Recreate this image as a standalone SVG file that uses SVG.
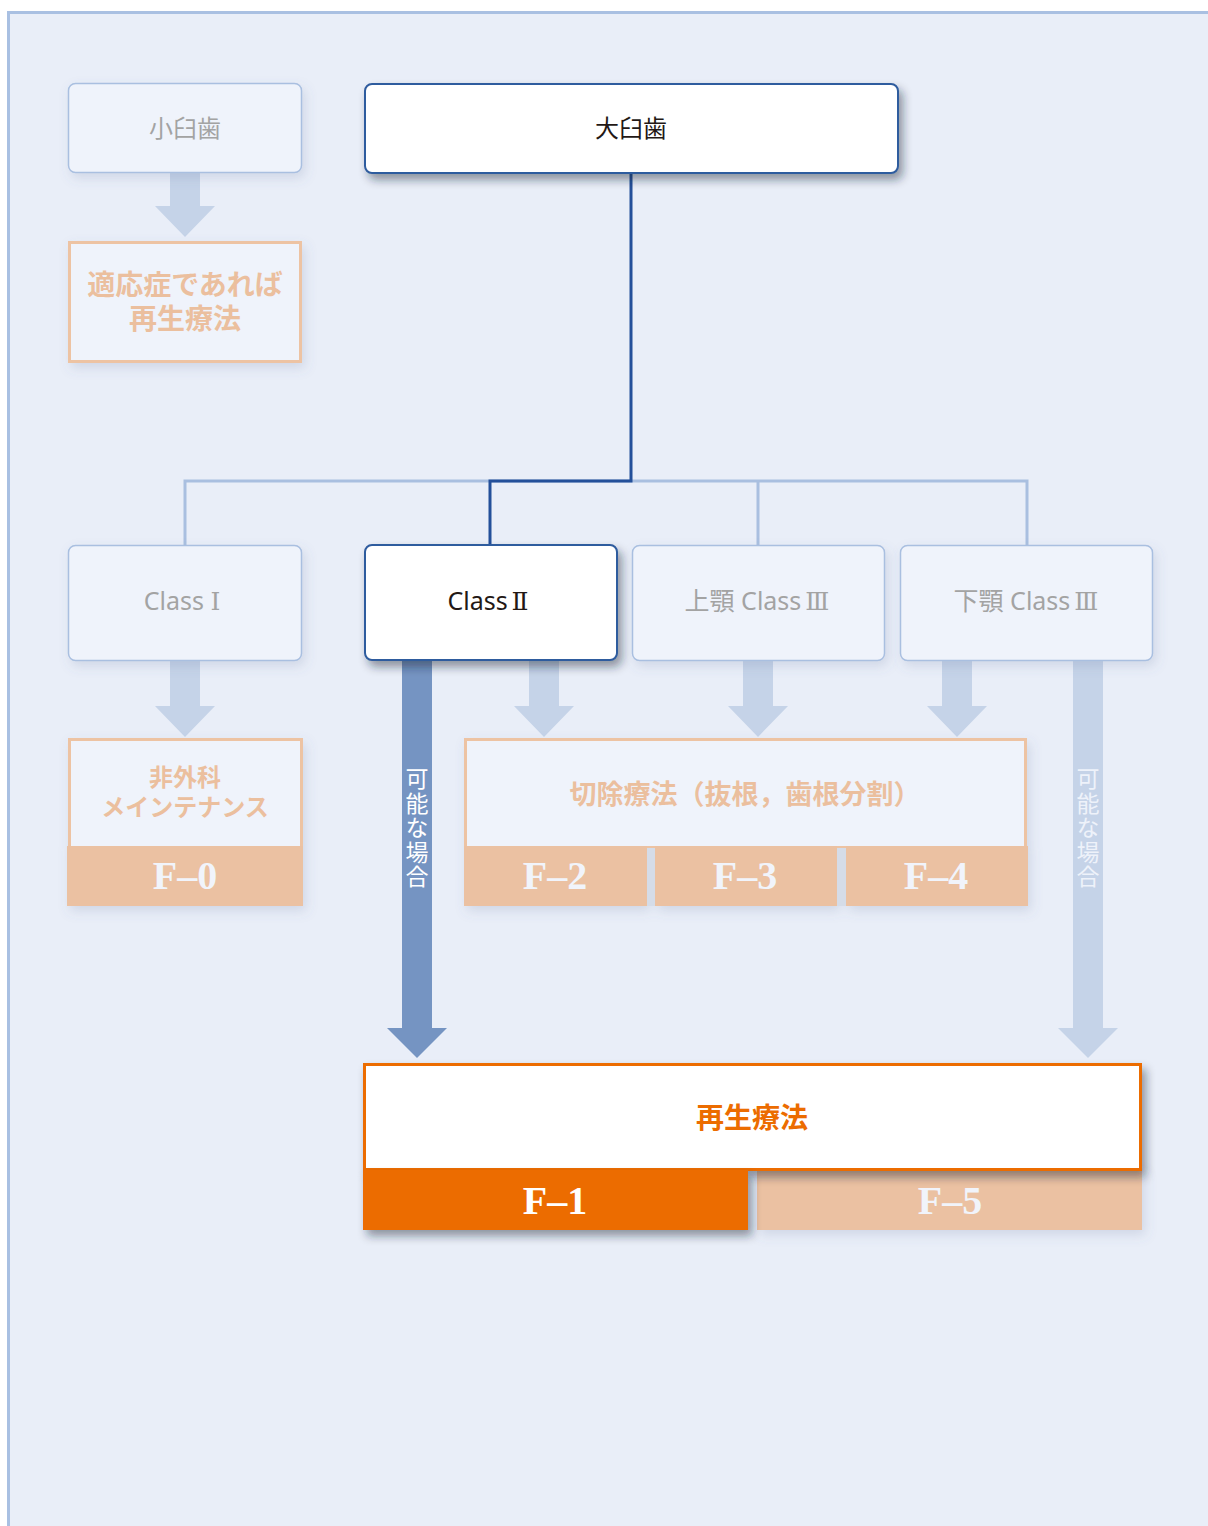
<svg xmlns="http://www.w3.org/2000/svg" width="1208" height="1526" viewBox="0 0 1208 1526">
<defs>
<filter id="shStrong" x="-10%" y="-20%" width="130%" height="160%">
<feDropShadow dx="4" dy="6" stdDeviation="5" flood-color="#1a2233" flood-opacity="0.45"/>
</filter>
<filter id="shSoft" x="-10%" y="-20%" width="130%" height="160%">
<feDropShadow dx="3" dy="5" stdDeviation="6" flood-color="#5a6f96" flood-opacity="0.18"/>
</filter>
<style>
.jp{font-family:"Noto Sans CJK JP","Noto Sans",sans-serif;}
.lat{font-family:"Noto Sans","Noto Sans CJK JP",sans-serif;}
.rn{font-family:"DejaVu Serif","Liberation Serif",serif;}
.boxL{fill:#eff3fb;stroke:#a9bfe0;stroke-width:1.5;}
.boxD{fill:#ffffff;stroke:#2f5b9e;stroke-width:2;}
.boxO{fill:#eff3fb;stroke:#edc3a3;stroke-width:3;}
.band{fill:#ebc1a2;}
.gray{fill:#a3a3a3;}
.lbl{fill:#ebbf9e;font-weight:bold;}
.fcode{font-family:"Liberation Serif","Times New Roman",serif;font-weight:bold;font-size:40px;fill:#f1f4fb;text-anchor:middle;}
.arL{fill:#c5d3e8;}
.arD{fill:#7594c2;}
.lnL{fill:none;stroke:#a9bfe0;stroke-width:3;}
.lnD{fill:none;stroke:#24509a;stroke-width:3;}
</style>
</defs>

<!-- panel -->
<rect x="0" y="0" width="1208" height="1526" fill="#ffffff"/>
<rect x="8.5" y="12.5" width="1210" height="1530" fill="#e9eef8" stroke="#a9c0e2" stroke-width="3"/>

<!-- connectors -->
<g id="connectors">
<polyline class="lnL" points="185,545 185,481 1027,481 1027,545"/>
<line class="lnL" x1="758" y1="481" x2="758" y2="545"/>
<polyline class="lnD" points="631,173 631,481 490,481 490,545"/>
<!-- block arrows -->
<polygon class="arL" points="170,173 200,173 200,206 215,206 185,237 155,206 170,206"/>
<polygon class="arL" points="170,660 200,660 200,706 215,706 185,737 155,706 170,706"/>
<polygon class="arL" points="529,660 559,660 559,706 574,706 544,737 514,706 529,706"/>
<polygon class="arL" points="743,660 773,660 773,706 788,706 758,737 728,706 743,706"/>
<polygon class="arL" points="942,660 972,660 972,706 987,706 957,737 927,706 942,706"/>
<polygon class="arD" points="402,660 432,660 432,1028 447,1028 417,1058 387,1028 402,1028"/>
<polygon class="arL" points="1073,660 1103,660 1103,1028 1118,1028 1088,1058 1058,1028 1073,1028"/>
<text class="jp" x="417" y="767" font-size="23" fill="#ffffff" style="writing-mode:vertical-rl" letter-spacing="1.5">可能な場合</text>
<text class="jp" x="1088" y="767" font-size="23" fill="#eef2fa" style="writing-mode:vertical-rl" letter-spacing="1.5">可能な場合</text>
</g>

<!-- 小臼歯 -->
<g id="premolar">
<rect class="boxL" x="68.5" y="83.5" width="233" height="89" rx="7" filter="url(#shSoft)"/>
<text class="jp gray" x="185" y="137" font-size="24" text-anchor="middle">小臼歯</text>
</g>

<g id="regen-if">
<rect class="boxO" x="69.5" y="242.5" width="231" height="119" filter="url(#shSoft)"/>
<text class="jp lbl" x="185" y="295" font-size="28" text-anchor="middle">適応症であれば</text>
<text class="jp lbl" x="185" y="329" font-size="28" text-anchor="middle">再生療法</text>
</g>

<!-- 大臼歯 -->
<g id="molar">
<rect class="boxD" x="365" y="84" width="533" height="89" rx="7" filter="url(#shStrong)"/>
<text class="jp" x="631" y="137" font-size="24" fill="#231815" text-anchor="middle">大臼歯</text>
</g>

<!-- Class row -->
<g id="class1">
<rect class="boxL" x="68.5" y="545.5" width="233" height="115" rx="7" filter="url(#shSoft)"/>
<text class="lat gray" x="182" y="610" font-size="25" text-anchor="middle">Class <tspan class="rn">Ⅰ</tspan></text>
</g>
<g id="class2">
<rect class="boxD" x="365" y="545" width="252" height="115" rx="7" filter="url(#shStrong)"/>
<text class="lat" x="488" y="610" font-size="25" fill="#231815" text-anchor="middle">Class<tspan class="rn" dx="4">Ⅱ</tspan></text>
</g>
<g id="class3u">
<rect class="boxL" x="632.5" y="545.5" width="252" height="115" rx="7" filter="url(#shSoft)"/>
<text class="lat gray" x="757" y="610" font-size="25" text-anchor="middle"><tspan class="jp">上顎</tspan> Class<tspan class="rn" dx="4">Ⅲ</tspan></text>
</g>
<g id="class3l">
<rect class="boxL" x="900.5" y="545.5" width="252" height="115" rx="7" filter="url(#shSoft)"/>
<text class="lat gray" x="1026" y="610" font-size="25" text-anchor="middle"><tspan class="jp">下顎</tspan> Class<tspan class="rn" dx="4">Ⅲ</tspan></text>
</g>

<!-- F-0 -->
<g id="f0">
<g filter="url(#shSoft)">
<rect class="boxO" x="69.5" y="739.5" width="232" height="108"/>
<rect class="band" x="67" y="846" width="236" height="60"/>
</g>
<text class="jp lbl" x="185" y="786" font-size="24" text-anchor="middle">非外科</text>
<text class="jp lbl" x="185" y="816" font-size="24" text-anchor="middle">メインテナンス</text>
<text class="fcode" x="185" y="889">F–0</text>
</g>

<!-- resection F-2/3/4 -->
<g id="resection">
<g filter="url(#shSoft)">
<rect class="boxO" x="465.5" y="739.5" width="560" height="108"/>
<rect class="band" x="464" y="846" width="183" height="60"/>
<rect class="band" x="655" y="846" width="182" height="60"/>
<rect class="band" x="846" y="846" width="182" height="60"/>
</g>
<rect x="647" y="848" width="8" height="58" fill="#d5dce8"/>
<rect x="837" y="848" width="9" height="58" fill="#d5dce8"/>
<text class="jp lbl" x="745" y="804" font-size="27" text-anchor="middle">切除療法（抜根，歯根分割）</text>
<text class="fcode" x="555" y="889">F–2</text>
<text class="fcode" x="745" y="889">F–3</text>
<text class="fcode" x="936" y="889">F–4</text>
</g>

<!-- 再生療法 F-1/F-5 -->
<g id="regen">
<rect class="band" x="757" y="1168" width="385" height="62" filter="url(#shSoft)"/>
<rect x="364.5" y="1064.5" width="776" height="105" fill="#ffffff" stroke="#ec6c00" stroke-width="3" filter="url(#shStrong)"/>
<rect x="363" y="1170" width="385" height="60" fill="#ec6c00" filter="url(#shStrong)"/>
<text class="jp" x="752" y="1128" font-size="28" font-weight="bold" fill="#ec6c00" text-anchor="middle">再生療法</text>
<text class="fcode" x="555" y="1214" style="fill:#ffffff">F–1</text>
<text class="fcode" x="950" y="1214">F–5</text>
</g>
</svg>
